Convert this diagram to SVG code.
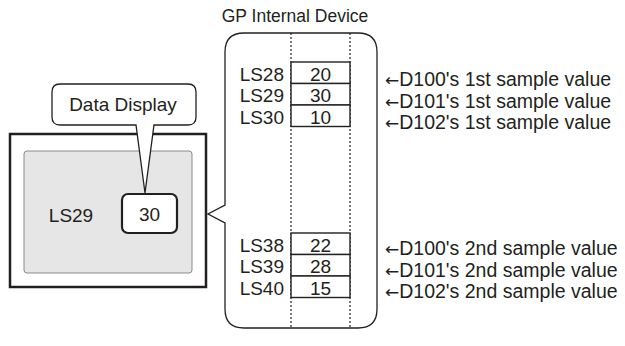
<svg xmlns="http://www.w3.org/2000/svg" width="625" height="346" viewBox="0 0 625 346">
<style>
text{font-family:"Liberation Sans",Arial,sans-serif;font-size:19px;fill:#231f20}
.note{font-size:19.5px}
.arr{font-family:"DejaVu Sans",sans-serif;font-size:17px}
.title{font-size:17.5px}
.ln{fill:none;stroke:#231f20;stroke-width:1.3}
.cell{fill:#fff;stroke:#231f20;stroke-width:1.4}
.dot{stroke:#231f20;stroke-width:1.2;stroke-dasharray:2,2;fill:none}
.mid{text-anchor:middle}
.end{text-anchor:end}
</style>
<rect width="625" height="346" fill="#fff"/>
<g id="screen">
<rect x="10" y="134" width="196" height="153" fill="#fff" stroke="#231f20" stroke-width="2.5"/>
<rect x="24" y="151" width="168" height="122" rx="3" fill="#e6e6e6" stroke="#8a8a8a" stroke-width="1"/>
<text x="71" y="222" class="mid">LS29</text>
</g>
<g id="value-box">
<rect x="122" y="194" width="55" height="39" rx="6" fill="#fff" stroke="#231f20" stroke-width="2.2"/>
<text x="149.5" y="221" class="mid">30</text>
</g>
<g id="callout">
<path d="M60,84 H188 Q196,84 196,92 V117 Q196,125 188,125 H154 L145,193 L136,125 H60 Q52,125 52,117 V92 Q52,84 60,84 Z" fill="#fff" stroke="#231f20" stroke-width="1.3"/>
<text x="123" y="111" class="mid">Data Display</text>
</g>
<g id="device">
<text x="295" y="22" class="mid title">GP Internal Device</text>
<path d="M244,33 H358 Q377,33 377,52 V309 Q377,328 358,328 H244 Q225,328 225,309 V223 L208,214 L225,205 V52 Q225,33 244,33 Z" class="ln"/>
<line x1="291" y1="33" x2="291" y2="328" class="dot"/>
<line x1="350" y1="33" x2="350" y2="328" class="dot"/>
<rect x="291" y="62" width="59" height="21.5" class="cell"/>
<rect x="291" y="83.5" width="59" height="21.5" class="cell"/>
<rect x="291" y="105" width="59" height="21.5" class="cell"/>
<rect x="291" y="233" width="59" height="21.5" class="cell"/>
<rect x="291" y="254.5" width="59" height="21.5" class="cell"/>
<rect x="291" y="276" width="59" height="21.5" class="cell"/>
<text x="284" y="80.5" class="end">LS28</text>
<text x="284" y="102" class="end">LS29</text>
<text x="284" y="123.5" class="end">LS30</text>
<text x="320.5" y="80.5" class="mid">20</text>
<text x="320.5" y="102" class="mid">30</text>
<text x="320.5" y="123.5" class="mid">10</text>
<text x="284" y="251.5" class="end">LS38</text>
<text x="284" y="273" class="end">LS39</text>
<text x="284" y="294.5" class="end">LS40</text>
<text x="320.5" y="251.5" class="mid">22</text>
<text x="320.5" y="273" class="mid">28</text>
<text x="320.5" y="294.5" class="mid">15</text>
</g>
<g id="notes">
<text x="385" y="86" class="note"><tspan class="arr">←</tspan>D100's 1st sample value</text>
<text x="385" y="107.5" class="note"><tspan class="arr">←</tspan>D101's 1st sample value</text>
<text x="385" y="129" class="note"><tspan class="arr">←</tspan>D102's 1st sample value</text>
<text x="385" y="255" class="note"><tspan class="arr">←</tspan>D100's 2nd sample value</text>
<text x="385" y="276.5" class="note"><tspan class="arr">←</tspan>D101's 2nd sample value</text>
<text x="385" y="298" class="note"><tspan class="arr">←</tspan>D102's 2nd sample value</text>
</g>
</svg>
